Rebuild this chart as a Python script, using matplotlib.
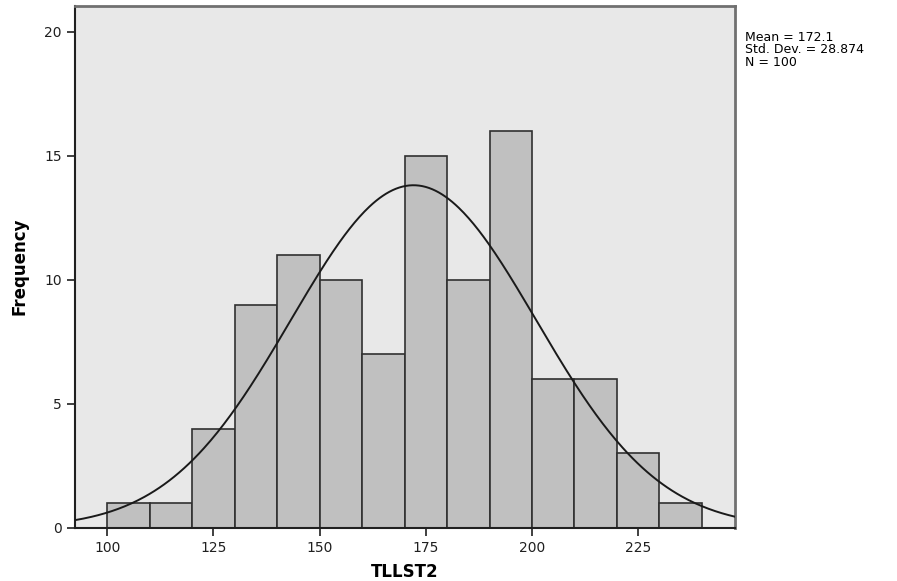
import numpy as np
import matplotlib.pyplot as plt

bin_edges = [100, 110, 120, 130, 140, 150, 160, 170, 180, 190, 200, 210, 220, 230, 240]
counts = [1, 1, 4, 9, 11, 10, 7, 15, 10, 16, 6, 6, 3, 1]
mean = 172.1
std = 28.874
n = 100

fig = plt.figure(figsize=(8.97, 5.81), dpi=100)
ax = fig.add_axes([0.0836, 0.0917, 0.7358, 0.8985])
ax.set_facecolor('#e8e8e8')

left = np.array(bin_edges[:-1])
width = np.diff(bin_edges)
ax.bar(left, counts, width=width, align='edge', color='#c0c0c0',
       edgecolor='#303030', linewidth=1.2, zorder=2)

# normal curve scaled to the histogram
xlim = (92.4, 247.8)
x = np.linspace(xlim[0], xlim[1], 400)
bw = width[0]
y = n * bw / (std * np.sqrt(2 * np.pi)) * np.exp(-0.5 * ((x - mean) / std) ** 2)
ax.plot(x, y, color='#1a1a1a', linewidth=1.4, zorder=3)

ax.set_xlim(xlim)
ax.set_ylim(0, 21.06)
ax.set_xticks([100, 125, 150, 175, 200, 225])
ax.set_yticks([0, 5, 10, 15, 20])
ax.tick_params(direction='out', length=6, width=1.2, labelsize=10, colors='#202020')

for s in ['left', 'bottom']:
    ax.spines[s].set_linewidth(1.5)
    ax.spines[s].set_color('#202020')
for s in ['top', 'right']:
    ax.spines[s].set_linewidth(2)
    ax.spines[s].set_color('#707070')

ax.set_xlabel('TLLST2', fontsize=12, fontweight='bold', labelpad=6)
ax.set_ylabel('Frequency', fontsize=12, fontweight='bold', labelpad=11)

fig.text(0.831, 0.947, 'Mean = 172.1\nStd. Dev. = 28.874\nN = 100',
         fontsize=9, va='top', ha='left', linespacing=0.95)

fig.savefig('out.png', dpi=100)
